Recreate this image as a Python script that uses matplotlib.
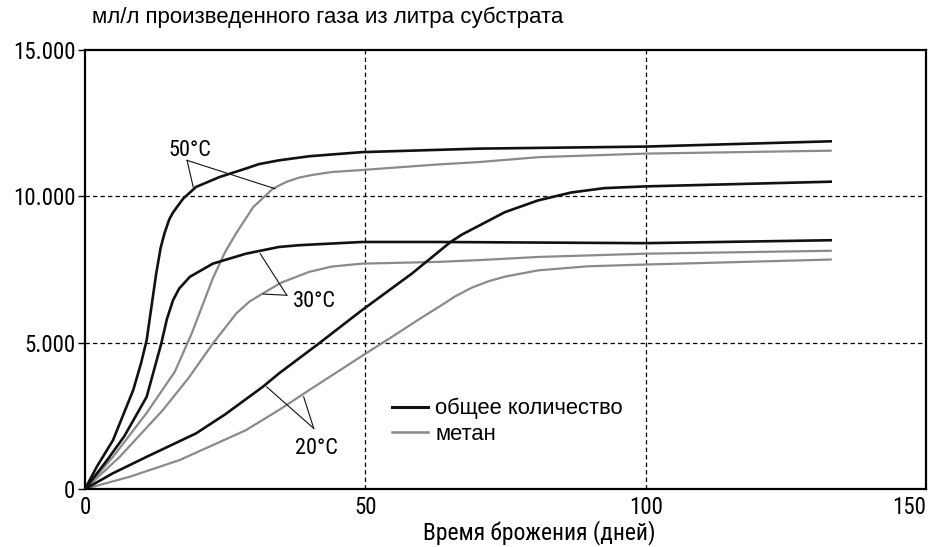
import matplotlib
matplotlib.use("Agg")
import matplotlib.pyplot as plt
from matplotlib import font_manager as fm
from matplotlib.ticker import FixedLocator

# ---- data ----
t_total_50 = [0, 2.1, 5, 8.6, 10, 11, 12.7, 13.5, 14.2, 15, 15.7, 17.5, 19.8, 24, 28.7, 31, 34.6, 40, 49.4, 70.2, 100, 133]
v_total_50 = [0, 760, 1670, 3380, 4300, 5090, 7360, 8250, 8750, 9200, 9450, 9920, 10320, 10660, 10950, 11100, 11230, 11370, 11510, 11630, 11700, 11880]

t_meth_50 = [0, 5, 11, 16, 19, 22.8, 25, 27, 30, 33.5, 36, 38.2, 40.5, 44, 49.4, 63, 70.2, 81, 100, 133]
v_meth_50 = [0, 1100, 2600, 4000, 5300, 7200, 8100, 8750, 9630, 10260, 10500, 10640, 10730, 10830, 10900, 11090, 11170, 11340, 11460, 11560]

t_total_30 = [0, 4, 7, 11, 13.6, 14.6, 15.7, 16.8, 18.7, 22.8, 28.7, 34.6, 38.2, 49.4, 63, 100, 133]
v_total_30 = [0, 1000, 1800, 3150, 4970, 5800, 6450, 6850, 7250, 7700, 8040, 8270, 8330, 8440, 8440, 8400, 8500]

t_meth_30 = [0, 6.2, 13.9, 18.5, 22.8, 27, 29.3, 31.7, 35, 40, 44, 49.4, 63, 70.2, 81, 100, 133]
v_meth_30 = [0, 1100, 2700, 3800, 4970, 6000, 6400, 6680, 7050, 7420, 7600, 7700, 7760, 7820, 7930, 8040, 8140]

t_total_20 = [0, 5, 11, 19.8, 25, 31.7, 34.6, 41.7, 49.4, 58.3, 65.2, 67.2, 69.3, 74.9, 80.8, 86.7, 92.6, 100, 133]
v_total_20 = [0, 540, 1100, 1900, 2550, 3490, 3950, 4970, 6110, 7360, 8440, 8690, 8900, 9460, 9860, 10130, 10280, 10340, 10500]

t_meth_20 = [0, 8, 16.9, 28.7, 34.6, 40, 45, 50, 55, 60, 64, 66, 69, 72, 75, 80.8, 89.7, 100, 133]
v_meth_20 = [0, 420, 990, 2010, 2700, 3380, 4000, 4620, 5230, 5850, 6330, 6580, 6880, 7100, 7260, 7470, 7610, 7670, 7840]

x_ticks = [0, 50, 100, 150]
x_tick_labels = ["0", "50", "100", "150"]
y_ticks = [0, 5000, 10000, 15000]
y_tick_labels = ["0", "5.000", "10.000", "15.000"]

title_text = "мл/л произведенного газа из литра субстрата"
x_label = "Время брожения (дней)"
legend_labels = ["общее количество", "метан"]

# annotation labels: text, text position, leader vertex, leader end points
annotations = [
    ("50°C", (18.75, 11550), (18.2, 11230), [(19.3, 10320), (33.9, 10260)]),
    ("30°C", (37.1, 6390), (36.0, 6620), [(31.25, 8040), (31.8, 6660)]),
    ("20°C", (41.3, 1400), (40.8, 2070), [(32.4, 3490), (39.0, 3150)]),
]

# ---- fonts ----
def find_narrow():
    names = sorted({f.name for f in fm.fontManager.ttflist})
    for pref in ["Liberation Sans Narrow", "Arial Narrow", "DejaVu Sans Condensed",
                 "Roboto Condensed", "Open Sans Condensed", "Noto Sans Condensed"]:
        if pref in names:
            return pref, None
    for f in fm.fontManager.ttflist:
        if ("Narrow" in f.name or "Condensed" in f.name) and f.style == "normal":
            return f.name, None
    for f in fm.fontManager.ttflist:
        if f.name == "DejaVu Sans" and str(f.stretch) in ("condensed", "semi-condensed") \
                and f.style == "normal" and f.weight in (400, "normal"):
            return "DejaVu Sans", "condensed"
    return None, None

narrow_name, narrow_stretch = find_narrow()
SANS = ["Liberation Sans", "DejaVu Sans"]
if narrow_name is not None:
    NARROW = [narrow_name, "DejaVu Sans"]
    NSTRETCH = narrow_stretch if narrow_stretch else "normal"
    TICK_FS, XLAB_FS, ANN_FS = 16.5, 17, 16
else:
    NARROW = SANS
    NSTRETCH = "normal"
    TICK_FS, XLAB_FS, ANN_FS = 14.5, 15, 14

plt.rcParams["font.family"] = SANS

BLACK = "#111111"
GRAY = "#8a8a8a"

fig = plt.figure(figsize=(9.31, 5.47), dpi=100)
ax = fig.add_axes([85 / 931, 1 - 489 / 547, 841 / 931, 439 / 547])

ax.set_xlim(0, 150)
ax.set_ylim(0, 15000)

# grid
for xv in [50, 100]:
    ax.axvline(xv, color="black", lw=0.9, ls=(0, (3.5, 2.5)), zorder=1)
for yv in [5000, 10000]:
    ax.axhline(yv, color="black", lw=0.9, ls=(0, (3.5, 2.5)), zorder=1)

# curves
lw_b, lw_g = 1.9, 1.6
h1, = ax.plot(t_total_50, v_total_50, color=BLACK, lw=lw_b, zorder=3, solid_joinstyle="round")
h2, = ax.plot(t_meth_50, v_meth_50, color=GRAY, lw=lw_g, zorder=2, solid_joinstyle="round")
ax.plot(t_total_30, v_total_30, color=BLACK, lw=lw_b, zorder=3, solid_joinstyle="round")
ax.plot(t_meth_30, v_meth_30, color=GRAY, lw=lw_g, zorder=2, solid_joinstyle="round")
ax.plot(t_total_20, v_total_20, color=BLACK, lw=lw_b, zorder=3, solid_joinstyle="round")
ax.plot(t_meth_20, v_meth_20, color=GRAY, lw=lw_g, zorder=2, solid_joinstyle="round")

# annotations
for label, tpos, vertex, ends in annotations:
    for e in ends:
        ax.plot([vertex[0], e[0]], [vertex[1], e[1]], color=BLACK, lw=0.8, zorder=4)
    ha = "left" if label == "30°C" else "center"
    ax.text(tpos[0], tpos[1], label, ha=ha, va="center", fontsize=ANN_FS,
            family=NARROW, fontstretch=NSTRETCH, zorder=5)

# spines
for s in ax.spines.values():
    s.set_linewidth(1.6)
    s.set_color("black")

ax.xaxis.set_major_locator(FixedLocator(x_ticks))
ax.set_xticklabels(x_tick_labels)
ax.yaxis.set_major_locator(FixedLocator(y_ticks))
ax.set_yticklabels(y_tick_labels)
ax.tick_params(axis="x", length=0, pad=5, labelsize=TICK_FS)
ax.tick_params(axis="y", length=5, width=1, pad=2, labelsize=TICK_FS)
for lab in ax.get_xticklabels() + ax.get_yticklabels():
    lab.set_family(NARROW)
    lab.set_fontstretch(NSTRETCH)
xtl = ax.get_xticklabels()
xtl[-1].set_horizontalalignment("right")
xtl[-1].set_x(151.0)

ax.set_xlabel(x_label, fontsize=XLAB_FS, family=NARROW, fontstretch=NSTRETCH)
ax.xaxis.set_label_coords((539 - 85) / 841, -0.071)

fig.text(92 / 931, 1 - 17 / 547, title_text, ha="left", va="center", fontsize=16, family=SANS)

leg = ax.legend([h1, h2], legend_labels, loc="upper left",
                bbox_to_anchor=((392 - 85) / 841, (489 - 398) / 439),
                frameon=False, prop={"family": SANS, "size": 15.8},
                handlelength=1.65, handletextpad=0.33,
                labelspacing=0.22, borderpad=0, borderaxespad=0)
leg.get_lines()[0].set_linewidth(2.2)
leg.get_lines()[1].set_linewidth(1.8)

fig.savefig("out.png", dpi=100)
